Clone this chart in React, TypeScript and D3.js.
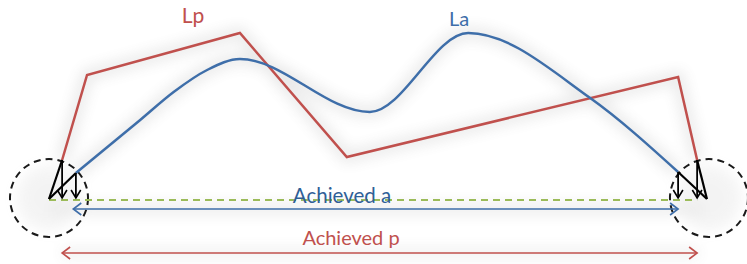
import React from "react";
import * as d3 from "d3";

// Diagram units: x across the span (0 = left end, 100 = right end), h = height above baseline
const lpX = [2, 5.8, 29.1, 45.4, 95.9, 98.8];
const lpH = [39, 124, 166, 42, 122, 39];

const laX = [4.1, 13.9, 19.0, 24.1, 29.1, 48.9, 63.9, 82.5, 95.9];
const laH = [26, 79, 107, 129, 140, 87, 166, 101, 27];

const endX = [0, 100.3];
const circleX = [0, 100.3];
const labels = ["Lp", "La", "Achieved a", "Achieved p"];

const W = 747, H = 264;
const x = d3.scaleLinear().domain([0, 100]).range([49, 705]);
const y = d3.scaleLinear().domain([0, 170]).range([199, 29]);

const RED = "#c0504d";
const BLUE = "#3e6ea9";
const GREEN = "#9bbb59";

function arrowHead(tx: number, ty: number, dir: "left" | "right" | "down", color: string, size = 8) {
  let d = "";
  if (dir === "left") d = `M${tx + size},${ty - size * 0.75}L${tx},${ty}L${tx + size},${ty + size * 0.75}`;
  if (dir === "right") d = `M${tx - size},${ty - size * 0.75}L${tx},${ty}L${tx - size},${ty + size * 0.75}`;
  if (dir === "down") d = `M${tx - size * 0.6},${ty - size}L${tx},${ty}L${tx + size * 0.6},${ty - size}`;
  return <path d={d} fill="none" stroke={color} strokeWidth={1.6} strokeLinejoin="miter" />;
}

export default function App() {
  const lpPts: [number, number][] = lpX.map((v, i) => [x(v), y(lpH[i])]);
  const laPts: [number, number][] = laX.map((v, i) => [x(v), y(laH[i])]);
  const lpPath = d3.line()(lpPts) || "";
  const laPath = d3.line().curve(d3.curveMonotoneX)(laPts) || "";
  const base = y(0);

  const blackVec = (ox: number, p: [number, number]) => (
    <g>
      <line x1={x(ox)} y1={base} x2={p[0]} y2={p[1]} stroke="#000" strokeWidth={2.2} />
      <line x1={p[0]} y1={p[1]} x2={p[0]} y2={base - 1} stroke="#000" strokeWidth={1.8} />
      {arrowHead(p[0], base - 1, "down", "#000", 8)}
    </g>
  );

  return (
    <svg width={W} height={H} style={{ position: "absolute", left: 0, top: 0, background: "#fff" }}
      fontFamily="Lato, 'Open Sans', sans-serif">
      <defs>
        <filter id="glow" x="-20%" y="-50%" width="140%" height="200%">
          <feGaussianBlur stdDeviation="7" />
        </filter>
      </defs>
      <g filter="url(#glow)" opacity={0.16}>
        <path d={lpPath} fill="none" stroke="#666" strokeWidth={10} />
        <path d={laPath} fill="none" stroke="#666" strokeWidth={10} />
        {circleX.map((c, i) => <circle key={i} cx={x(c) + (i ? 2 : 0)} cy={base - 1} r={32} fill="#bbb" />)}
        <line x1={x(0)} x2={x(100)} y1={base + 10} y2={base + 10} stroke="#666" strokeWidth={8} />
        <line x1={x(2)} x2={x(99)} y1={base + 54} y2={base + 54} stroke="#666" strokeWidth={6} />
      </g>

      {/* dashed circles */}
      {circleX.map((c, i) => (
        <circle key={i} cx={x(c) + (i ? 2 : 0)} cy={base - 1} r={39} fill="none" stroke="#1a1a1a"
          strokeWidth={2} strokeDasharray="7 5" />
      ))}

      {/* Lp and La */}
      <path d={lpPath} fill="none" stroke={RED} strokeWidth={2.5} strokeLinejoin="miter" />
      <path d={laPath} fill="none" stroke={BLUE} strokeWidth={2.5} />

      {/* green dashed achieved line */}
      <line x1={x(endX[0])} x2={x(98.8)} y1={base + 1} y2={base + 1} stroke={GREEN} strokeWidth={2}
        strokeDasharray="7 5" />

      {/* black vectors */}
      {blackVec(endX[0], lpPts[0])}
      {blackVec(endX[0], laPts[0])}
      {blackVec(endX[1], lpPts[lpPts.length - 1])}
      {blackVec(endX[1], laPts[laPts.length - 1])}

      {/* Achieved a arrow */}
      <line x1={x(3.7)} x2={x(95.9)} y1={base + 10} y2={base + 10} stroke={BLUE} strokeWidth={1.5} />
      {arrowHead(x(3.7), base + 10, "left", BLUE, 8)}
      {arrowHead(x(95.9), base + 10, "right", BLUE, 8)}

      {/* Achieved p arrow */}
      <line x1={x(2)} x2={x(98.8)} y1={base + 54} y2={base + 54} stroke={RED} strokeWidth={1.5} />
      {arrowHead(x(2), base + 54, "left", RED, 8)}
      {arrowHead(x(98.8), base + 54, "right", RED, 8)}

      {/* labels */}
      <text x={193} y={23} fill={RED} fontSize={21} textAnchor="middle">{labels[0]}</text>
      <text x={459} y={26} fill={BLUE} fontSize={20} textAnchor="middle">{labels[1]}</text>
      <text x={342} y={203} fill="#2f5f97" fontSize={20.5} textAnchor="middle">{labels[2]}</text>
      <text x={351} y={245} fill={RED} fontSize={20} textAnchor="middle">{labels[3]}</text>
    </svg>
  );
}
